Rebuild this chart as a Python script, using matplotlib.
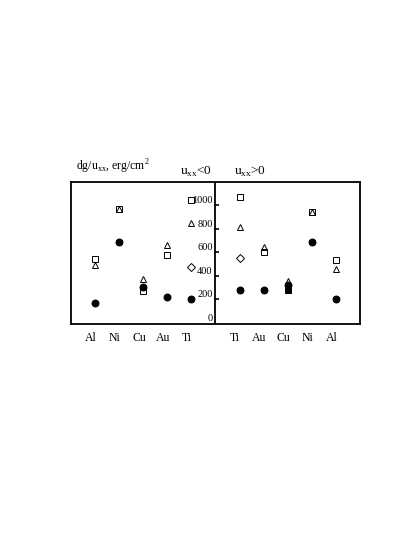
import numpy as np
import matplotlib.pyplot as plt

plt.rcParams['font.family'] = ['Liberation Serif', 'DejaVu Serif']
plt.rcParams['mathtext.fontset'] = 'custom'
plt.rcParams['mathtext.rm'] = 'Liberation Serif'

# uxx < 0 (left half)
left_names = ['Al', 'Ni', 'Cu', 'Au', 'Ti']
left_circle = [163, 682, 305, 220, 197]
left_square = [538, 963, 271, 577, 1042]
left_triangle = [492, 963, 368, 657, 849]
left_diamond = [np.nan, np.nan, np.nan, np.nan, 470]

# uxx > 0 (right half)
right_names = ['Ti', 'Au', 'Cu', 'Ni', 'Al']
right_circle = [277, 277, 322, 685, 197]
right_square = [1070, 600, np.nan, 943, 532]
right_square_filled = [np.nan, np.nan, 277, np.nan, np.nan]
right_triangle = [815, 645, 356, 943, 455]
right_diamond = [551, np.nan, np.nan, np.nan, np.nan]

yticks = [0, 200, 400, 600, 800, 1000]

xl = np.arange(1, 6)
xr = np.arange(7, 12)

fig = plt.figure(figsize=(4.15, 5.37), dpi=100)
ax = fig.add_axes([0.171, 0.3966, 0.6964, 0.2644])

# markers
ms_kw = dict(linestyle='none', markeredgecolor='black', markeredgewidth=0.7)
for x, c, s, t, d in [(xl, left_circle, left_square, left_triangle, left_diamond),
                      (xr, right_circle, right_square, right_triangle, right_diamond)]:
    ax.plot(x, s, marker='s', markersize=4, markerfacecolor='white', **ms_kw)
    ax.plot(x, t, marker='^', markersize=4.3, markerfacecolor='none', **ms_kw)
    ax.plot(x, d, marker='D', markersize=4, markerfacecolor='white', **ms_kw)
    ax.plot(x, c, marker='o', markersize=5, markerfacecolor='black', **ms_kw)
ax.plot(xr, right_square_filled, marker='s', markersize=4.5, markerfacecolor='black', **ms_kw)

ax.set_xlim(0, 12)
ax.set_ylim(-13, 1196)

# central axis with ticks
ax.axvline(6, color='black', linewidth=1.3)
ax.hlines(yticks[1:], 5.92, 6.15, color='black', linewidth=1.2)
for v in yticks:
    ax.text(5.88, v + 38, str(v), ha='right', va='center', fontsize=7.5)

ax.set_xticks([])
ax.set_yticks([])
for sp in ax.spines.values():
    sp.set_linewidth(1.3)

# element labels below the box
trans = ax.get_xaxis_transform()
for x, name in zip(list(xl) + list(xr), left_names + right_names):
    ax.text(x - 0.18, -0.095, name, transform=trans, ha='center', va='center', fontsize=8.5)

# headers
fig.text(76 / 415, 1 - 167 / 537, r'dg/u$_{\mathregular{xx}}$, erg/cm$^{\mathregular{2}}$',
         ha='left', va='center', fontsize=8.5)
fig.text(180 / 415, 1 - 172 / 537, r'u$_{\mathregular{xx}}$<0', ha='left', va='center', fontsize=9.5)
fig.text(234 / 415, 1 - 172 / 537, r'u$_{\mathregular{xx}}$>0', ha='left', va='center', fontsize=9.5)

fig.savefig('out.png', dpi=100)
